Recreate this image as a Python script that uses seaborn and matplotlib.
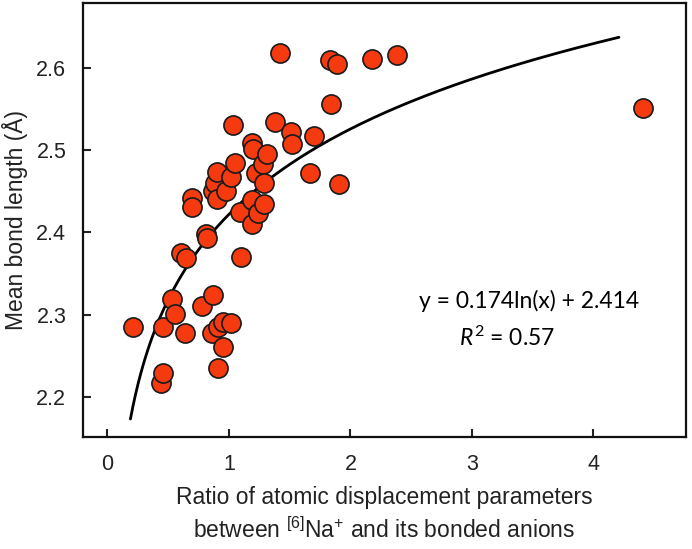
import numpy as np
import pandas as pd
import seaborn as sns
import matplotlib.pyplot as plt

# --- data ---
ratio = [0.21, 0.46, 0.44, 0.46, 0.53, 0.56, 0.61, 0.65, 0.64, 0.70, 0.70,
         0.78, 0.81, 0.82, 0.86, 0.87, 0.87, 0.89, 0.90, 0.90, 0.91, 0.91,
         0.95, 0.95, 0.98, 1.02, 1.02, 1.03, 1.05, 1.09, 1.10, 1.19, 1.19,
         1.20, 1.19, 1.22, 1.24, 1.28, 1.29, 1.29, 1.31, 1.38, 1.42, 1.51,
         1.52, 1.67, 1.70, 1.83, 1.84, 1.89, 1.91, 2.18, 2.38, 4.41]
bond_length = [2.285, 2.285, 2.217, 2.229, 2.319, 2.301, 2.375, 2.369, 2.278, 2.442, 2.431,
               2.310, 2.398, 2.393, 2.278, 2.324, 2.451, 2.460, 2.474, 2.441, 2.285, 2.235,
               2.291, 2.260, 2.451, 2.290, 2.468, 2.531, 2.485, 2.425, 2.370, 2.509, 2.440,
               2.502, 2.410, 2.472, 2.424, 2.483, 2.460, 2.435, 2.495, 2.534, 2.618, 2.522,
               2.508, 2.472, 2.517, 2.610, 2.556, 2.605, 2.459, 2.611, 2.616, 2.551]

# log fit as drawn on the picture
fit_a = 0.150
fit_b = 2.422
fit_x_range = (0.19, 4.21)

df = pd.DataFrame({"ratio": ratio, "bond_length": bond_length})
fit_x = np.linspace(fit_x_range[0], fit_x_range[1], 200)
fit_df = pd.DataFrame({"x": fit_x, "y": fit_a * np.log(fit_x) + fit_b})

# --- plot ---
sns.set_style("white")
plt.rcParams["font.family"] = ["Liberation Sans", "DejaVu Sans"]
plt.rcParams["mathtext.fontset"] = "custom"
plt.rcParams["mathtext.rm"] = "Lato"
plt.rcParams["mathtext.it"] = "Lato:italic"

fig = plt.figure(figsize=(6.92, 5.49), dpi=100)
ax = fig.add_axes([0.12, 0.204, 0.871, 0.79])

sns.lineplot(data=fit_df, x="x", y="y", color="black", linewidth=2, ax=ax)
sns.scatterplot(data=df, x="ratio", y="bond_length", s=190, color="#F43A0E",
                edgecolor="#1a1a1a", linewidth=1.2, ax=ax, zorder=3)

ax.set_xlim(-0.2, 4.76)
ax.set_ylim(2.151, 2.679)
ax.set_xticks([0, 1, 2, 3, 4])
ax.set_yticks([2.2, 2.3, 2.4, 2.5, 2.6])
ax.set_yticklabels(["2.2", "2.3", "2.4", "2.5", "2.6"])
ax.tick_params(direction="in", length=6, width=1.5, labelsize=15.5, pad=12,
               bottom=True, left=True, colors="#222222")
for sp in ax.spines.values():
    sp.set_linewidth(1.6)
    sp.set_color("#111111")

ax.set_xlabel("Ratio of atomic displacement parameters\n"
              r"between $^{\mathregular{[6]}}$Na$^{\mathregular{+}}$ and its bonded anions",
              fontsize=16.5, color="#222222", labelpad=8, linespacing=1.4)
ax.set_ylabel("Mean bond length (Å)", fontsize=16.5, color="#222222", labelpad=6)

ax.text(3.47, 2.317, "y = 0.174ln(x) + 2.414", fontsize=16.5, family="Lato",
        ha="center", va="center", color="black")
ax.text(3.29, 2.272, r"$\mathit{R}^{2}$ = 0.57", fontsize=16.5, family="Lato",
        ha="center", va="center", color="black")

fig.savefig("out.png", dpi=100)
